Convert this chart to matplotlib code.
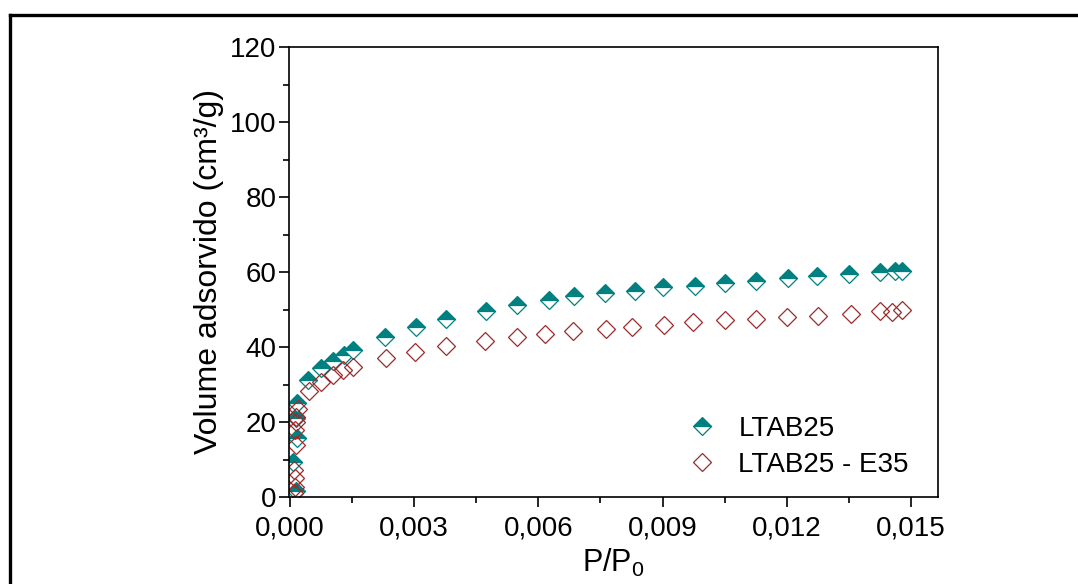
import matplotlib
matplotlib.use("Agg")
import matplotlib.pyplot as plt
from matplotlib.lines import Line2D
from matplotlib.ticker import MultipleLocator, FuncFormatter

# ---- data ----
p_ltab25 = [0.00015, 0.00008, 0.00018, 0.00015, 0.00018, 0.00045, 0.00075, 0.00105,
            0.00130, 0.00152, 0.00229, 0.00304, 0.00378, 0.00473, 0.00548, 0.00625,
            0.00686, 0.00762, 0.00834, 0.00902, 0.00978, 0.01051, 0.01125, 0.01204,
            0.01274, 0.01349, 0.01425, 0.01460, 0.01478]
v_ltab25 = [1.5, 9.3, 15.7, 21.0, 25.2, 31.2, 34.3, 36.2, 37.8, 39.3, 42.7, 45.4,
            47.5, 49.6, 51.2, 52.5, 53.7, 54.3, 54.9, 55.9, 56.4, 57.2, 57.7, 58.3,
            58.9, 59.4, 60.0, 60.3, 60.4]

p_e35 = [0.00010, 0.00012, 0.00012, 0.00010, 0.00015, 0.00012, 0.00015, 0.00015,
         0.00020, 0.00046, 0.00076, 0.00104, 0.00128, 0.00152, 0.00231, 0.00302,
         0.00378, 0.00472, 0.00549, 0.00615, 0.00684, 0.00764, 0.00827, 0.00903,
         0.00974, 0.01051, 0.01125, 0.01201, 0.01275, 0.01354, 0.01425, 0.01453,
         0.01477]
v_e35 = [1.0, 2.7, 5.0, 7.2, 13.9, 17.9, 20.0, 21.4, 23.6, 28.4, 30.8, 32.5, 33.9,
         34.8, 37.0, 38.8, 40.3, 41.6, 42.7, 43.5, 44.3, 44.8, 45.3, 46.0, 46.8,
         47.2, 47.6, 48.1, 48.4, 48.9, 49.6, 49.4, 49.9]

labels = ["LTAB25", "LTAB25 - E35"]

# ---- style ----
plt.rcParams['font.family'] = ['Liberation Sans', 'DejaVu Sans']
teal = '#008080'
red = '#9E2A2B'

fig = plt.figure(figsize=(10.78, 5.84), dpi=100)
ax = fig.add_axes([289/1078, 1 - 497/584, (938 - 289)/1078, (497 - 47)/584])

ax.plot(p_ltab25, v_ltab25, linestyle='none', marker='D', markersize=9,
        fillstyle='top', markerfacecolor=teal, markerfacecoloralt='white',
        markeredgecolor=teal, markeredgewidth=0.9, label=labels[0])
ax.plot(p_e35, v_e35, linestyle='none', marker='D', markersize=9,
        markerfacecolor='none', markeredgecolor=red, markeredgewidth=0.9,
        label=labels[1])

ax.set_xlim(-0.00002, 0.01565)
ax.set_ylim(0, 120)
ax.xaxis.set_major_locator(MultipleLocator(0.003))
ax.xaxis.set_minor_locator(MultipleLocator(0.0015))
ax.yaxis.set_major_locator(MultipleLocator(20))
ax.yaxis.set_minor_locator(MultipleLocator(10))
ax.xaxis.set_major_formatter(FuncFormatter(lambda v, pos: f"{v:.3f}".replace('.', ',')))

for s in ax.spines.values():
    s.set_linewidth(1.2)
ax.tick_params(which='both', direction='out', top=False, right=False, width=1.2, labelsize=20)
ax.tick_params(which='major', length=7)
ax.tick_params(axis='y', which='major', pad=2)
ax.tick_params(axis='x', which='major', pad=6)
ax.tick_params(which='minor', length=4)

ax.set_xlabel(r"P/P$_{\mathregular{0}}$", fontsize=22, labelpad=4)
ax.set_ylabel("Volume adsorvido (cm³/g)", fontsize=23, labelpad=4)

ax.legend(loc='lower right', bbox_to_anchor=(0.985, 0.0), frameon=False, fontsize=20,
          handletextpad=0.3, labelspacing=0.35, borderaxespad=0.3)

# outer frame (extends beyond the image on right and bottom)
fig.add_artist(Line2D([9.5/1078, 9.5/1078], [0, 1 - 14.5/584], transform=fig.transFigure,
                      color='black', linewidth=2.4, solid_capstyle='projecting'))
fig.add_artist(Line2D([9.5/1078, 1.0], [1 - 14.5/584, 1 - 14.5/584], transform=fig.transFigure,
                      color='black', linewidth=2.4, solid_capstyle='projecting'))

fig.savefig("out.png", dpi=100)
